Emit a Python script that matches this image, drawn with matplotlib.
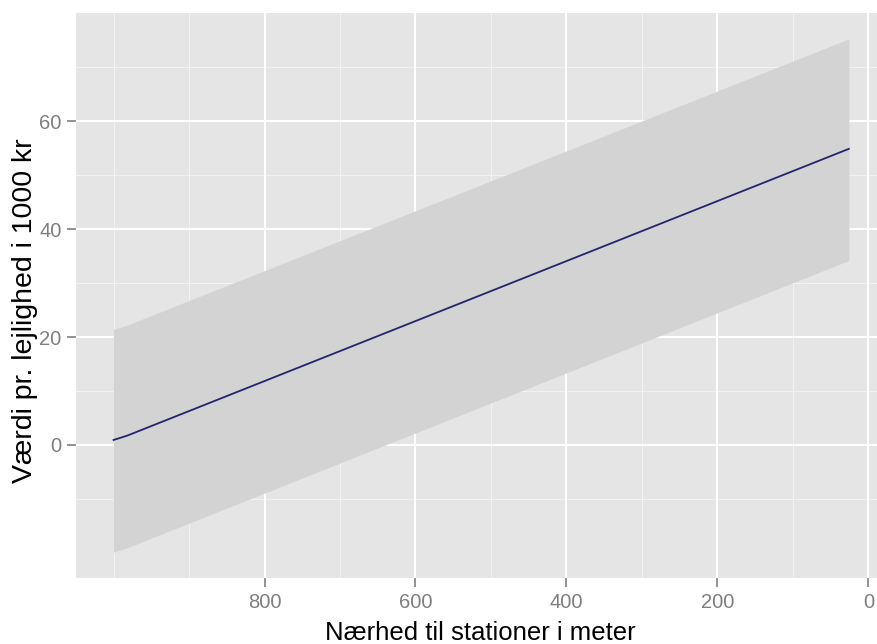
import matplotlib
matplotlib.use("Agg")
import matplotlib.pyplot as plt

# afstand til station (m) og estimeret vaerdi (1000 kr)
afstand = [1000, 982, 26]
vaerdi = [0.9, 1.7, 54.9]
nedre = [-19.9, -19.1, 34.2]
oevre = [21.4, 22.2, 75.3]

x_ticks = [800, 600, 400, 200, 0]
x_minor = [1000, 900, 700, 500, 300, 100]
y_ticks = [0, 20, 40, 60]
y_minor = [-10, 10, 30, 50, 70]

plt.rcParams['font.family'] = ['Liberation Sans', 'DejaVu Sans']

fig = plt.figure(figsize=(8.77, 6.44), dpi=100)
ax = fig.add_axes([76 / 877, 1 - 578 / 644, (885.6 - 76) / 877, (578 - 13) / 644])
ax.set_facecolor('#e5e5e5')

for v in x_minor:
    ax.axvline(v, color='#f2f2f2', lw=0.8, zorder=0)
for v in y_minor:
    ax.axhline(v, color='#f2f2f2', lw=0.8, zorder=0)
for v in x_ticks:
    ax.axvline(v, color='white', lw=1.4, zorder=0)
for v in y_ticks:
    ax.axhline(v, color='white', lw=1.4, zorder=0)

ax.fill_between(afstand, nedre, oevre, color='#d3d3d3', lw=0, zorder=1)
ax.plot(afstand, vaerdi, color='#24246e', lw=1.3, zorder=2)

ax.set_xlim(1049.7, -22.7)
ax.set_ylim(-24.7, 80.1)
ax.set_xticks(x_ticks)
ax.set_yticks(y_ticks)
ax.tick_params(colors='#7f7f7f', labelcolor='#7f7f7f', labelsize=14.5,
               length=6.5, width=1.2, direction='out', pad=4)
for s in ax.spines.values():
    s.set_visible(False)

ax.set_xlabel('Nærhed til stationer i meter', fontsize=18.5, color='black', labelpad=6.5)
ax.set_ylabel('Værdi pr. lejlighed i 1000 kr', fontsize=20.5, color='black')
ax.yaxis.set_label_coords(-0.047, 0.474)

fig.savefig('out.png', dpi=100)
